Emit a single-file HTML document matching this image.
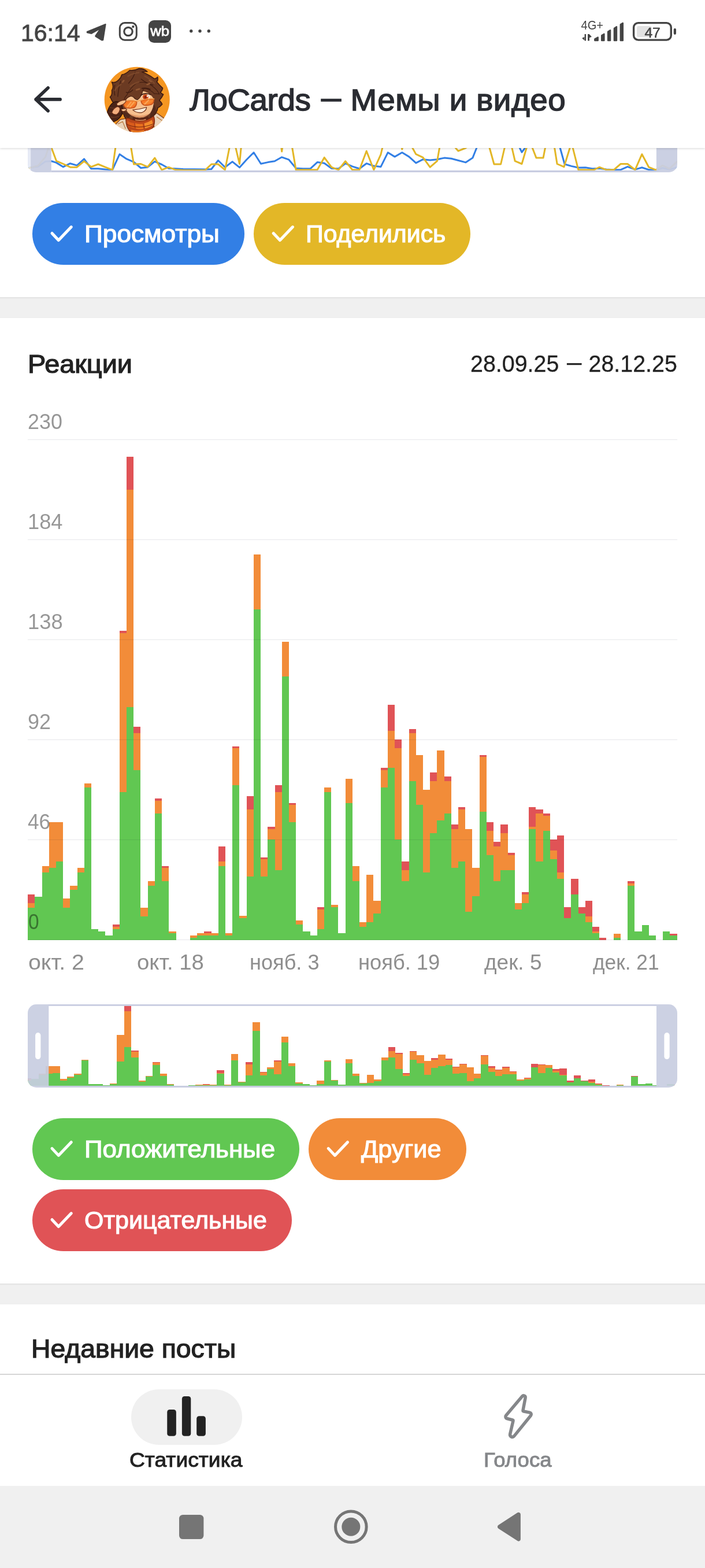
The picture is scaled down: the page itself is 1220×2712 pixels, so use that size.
<!DOCTYPE html>
<html lang="ru"><head><meta charset="utf-8">
<meta name="viewport" content="width=1220">
<title>ЛоCards — Мемы и видео</title>
<style>
*{box-sizing:border-box;margin:0;padding:0}
html,body{width:1220px;height:2712px;overflow:hidden;background:#fff}
body{position:relative;font-family:'Liberation Sans',sans-serif;color:#222}
.t{position:absolute;white-space:nowrap;line-height:1;transform-origin:0 0}
.abs{position:absolute}
.chip{position:absolute;height:107px;border-radius:53.5px}
svg{position:absolute;left:0;top:0;overflow:visible}
</style></head><body>

<svg width="1220" height="2712"><defs><clipPath id="cs"><rect x="48" y="200" width="1124" height="97.9" rx="14"/></clipPath></defs><g clip-path="url(#cs)"><polyline points="47.8,290.5 65.9,287.9 78.8,279.3 89.2,278.8 97.5,281.4 109.4,288.7 121.5,282.7 133.2,286.1 145.6,274.9 157.8,291.8 169.9,291.8 182.4,293.1 194.5,293.8 207.0,266.7 219.1,274.9 231.5,280.1 243.7,290.5 255.6,289.2 267.8,279.3 279.9,284.5 291.9,291.3 304.0,291.8 317.0,292.5 354.9,293.1 365.8,292.5 377.5,277.5 389.4,289.2 402.1,279.6 414.5,289.7 426.6,276.2 439.1,263.8 451.5,283.2 463.7,280.6 475.3,278.8 487.7,271.8 499.9,276.2 512.1,291.0 524.5,291.8 536.9,291.8 549.1,280.6 561.2,282.2 573.7,291.3 585.8,291.8 597.7,282.7 609.8,287.9 622.0,291.8 634.2,282.7 646.9,287.1 659.0,288.4 671.2,263.8 683.1,271.1 695.8,263.8 707.9,271.1 719.8,281.9 732.0,275.7 744.2,277.0 756.6,275.7 769.0,273.1 780.9,274.2 793.1,277.5 805.8,280.9 817.9,273.1 824.7,256.0 829.1,245.2 896.0,242.6 899.4,256.0 903.0,263.3 908.5,256.0 912.4,245.2 965.4,242.6 969.3,256.0 977.1,284.0 989.0,287.4 1000.9,290.0 1013.0,289.7 1025.0,291.8 1037.4,291.3 1049.5,293.1 1062.0,293.8 1074.1,293.6 1086.0,288.4 1099.0,293.1 1110.9,289.7 1122.8,293.6 1135.0,294.4 1146.6,290.5 1158.3,293.1 1172.5,289.2" fill="none" stroke="#327fe5" stroke-width="3.0" stroke-linejoin="round" stroke-linecap="round"/><polyline points="47.8,291.8 55.5,289.2 65.9,286.6 78.8,271.1 87.4,245.2 89.2,256.0 97.5,278.3 109.4,283.5 121.5,289.2 133.2,289.2 145.6,278.8 157.8,288.7 169.9,284.0 182.4,289.2 194.5,293.8 199.7,256.0 201.3,245.2 225.3,245.2 226.9,256.0 231.5,284.0 243.7,283.5 255.6,288.7 267.8,273.1 279.9,293.8 291.9,289.2 304.0,293.8 317.0,294.4 354.9,294.4 365.8,284.0 377.5,284.0 389.4,293.8 396.9,256.0 398.9,245.2 406.7,245.2 408.0,256.0 414.5,283.5 417.1,256.0 418.1,245.2 485.7,245.2 487.7,262.0 489.8,245.2 504.8,245.2 505.8,256.0 512.1,293.8 549.1,293.8 561.2,272.4 573.7,289.2 585.8,293.8 597.7,278.8 609.8,293.8 622.0,293.8 634.2,261.2 646.9,293.8 659.0,267.2 661.6,256.0 663.7,245.2 693.2,245.2 695.8,258.1 698.4,245.2 711.8,245.2 713.9,256.0 719.8,266.7 732.0,272.4 744.2,289.2 756.6,278.3 760.5,256.0 762.0,245.2 785.1,247.8 788.4,256.0 793.1,261.2 805.8,256.0 814.8,250.4 844.6,245.2 847.2,256.0 855.0,284.0 866.6,284.0 873.1,256.0 875.9,245.2 884.2,245.2 886.0,256.0 891.2,278.3 890.9,278.3 903.0,283.5 911.1,256.0 914.2,245.2 918.8,245.2 921.4,256.0 927.9,272.9 940.1,272.9 943.4,256.0 945.7,245.2 957.7,245.2 959.7,256.0 964.1,283.5 976.0,288.7 986.1,256.0 988.7,245.2 989.7,245.2 991.3,256.0 1000.9,293.8 1013.0,293.8 1027.5,293.8 1037.4,289.2 1049.5,293.8 1062.0,293.8 1074.1,283.5 1086.0,283.5 1099.0,293.8 1110.9,266.7 1122.8,289.2 1135.0,293.8 1146.6,286.1 1158.3,291.8 1172.5,278.8" fill="none" stroke="#e3b727" stroke-width="3.0" stroke-linejoin="round" stroke-linecap="round"/><rect x="88.8" y="294.7" width="1047.1" height="3.3" fill="#c8cde1"/><rect x="48" y="200" width="5.2" height="98" fill="#e3e8f4" fill-opacity="0.85"/><rect x="53.1" y="200" width="35.7" height="98" fill="#c8cde1" fill-opacity="0.95"/><rect x="1135.9" y="200" width="36.5" height="98" fill="#c8cde1" fill-opacity="0.95"/></g></svg>
<div class="chip" style="left:55.9px;top:351.0px;width:366.80px;background:#327fe5"></div><svg width="1220" height="2712" style="pointer-events:none"><path d="M90.0 403.5 L101.3 415.5 L123.3 392.6" fill="none" stroke="#fff" stroke-width="5" stroke-linecap="round" stroke-linejoin="round"/></svg><div class="t" style="left:145.54px;top:384px;font-size:41.6px;font-weight:400;color:#fff;transform:scaleX(1.0636);-webkit-text-stroke:1.16px #fff;">Просмотры</div>
<div class="chip" style="left:439.1px;top:351.0px;width:374.80px;background:#e3b727"></div><svg width="1220" height="2712" style="pointer-events:none"><path d="M473.2 403.5 L484.5 415.5 L506.5 392.6" fill="none" stroke="#fff" stroke-width="5" stroke-linecap="round" stroke-linejoin="round"/></svg><div class="t" style="left:528.60px;top:384px;font-size:41.6px;font-weight:400;color:#fff;transform:scaleX(1.0287);-webkit-text-stroke:1.16px #fff;">Поделились</div>
<div class="abs" style="left:-10px;top:513.8px;width:1240px;height:36.1px;background:#f0f0f0;box-shadow:inset 0 3px 3px -2px rgba(0,0,0,.10), inset 0 -2px 2px -2px rgba(0,0,0,.06)"></div>
<div class="abs" style="left:-10px;top:2219.8px;width:1240px;height:36.1px;background:#f0f0f0;box-shadow:inset 0 3px 3px -2px rgba(0,0,0,.10), inset 0 -2px 2px -2px rgba(0,0,0,.06)"></div>
<div class="t" style="left:47.67px;top:608px;font-size:43.7px;font-weight:400;color:#222;transform:scaleX(1.0724);-webkit-text-stroke:1.22px #222;">Реакции</div>
<div class="t" style="left:813.50px;top:609px;font-size:41.3px;font-weight:400;color:#222;transform:scaleX(0.9543);-webkit-text-stroke:0.33px #222;">28.09.25 <span style="display:inline-block;width:0.662em;transform:scaleX(0.645);transform-origin:0 50%;margin-left:0.078em;position:relative;top:-0.073em">—</span> 28.12.25</div>
<svg width="1220" height="2712" shape-rendering="crispEdges">
<rect x="48" y="1570.28" width="12" height="55.32" fill="#61c752"/><rect x="48" y="1561.62" width="12" height="8.66" fill="#f28c39"/><rect x="48" y="1546.57" width="12" height="15.05" fill="#e05356"/><rect x="60" y="1551.08" width="13" height="74.52" fill="#61c752"/><rect x="73" y="1508.93" width="12" height="116.67" fill="#61c752"/><rect x="73" y="1497.64" width="12" height="11.29" fill="#f28c39"/><rect x="85" y="1501.40" width="12" height="124.20" fill="#61c752"/><rect x="85" y="1422.37" width="12" height="79.03" fill="#f28c39"/><rect x="97" y="1490.11" width="12" height="135.49" fill="#61c752"/><rect x="97" y="1422.37" width="12" height="67.74" fill="#f28c39"/><rect x="109" y="1570.28" width="12" height="55.32" fill="#61c752"/><rect x="109" y="1554.09" width="12" height="16.18" fill="#f28c39"/><rect x="121" y="1539.04" width="13" height="86.56" fill="#61c752"/><rect x="121" y="1531.51" width="13" height="7.53" fill="#f28c39"/><rect x="134" y="1508.93" width="12" height="116.67" fill="#61c752"/><rect x="134" y="1501.40" width="12" height="7.53" fill="#f28c39"/><rect x="146" y="1362.15" width="12" height="263.44" fill="#61c752"/><rect x="146" y="1354.63" width="12" height="7.53" fill="#f28c39"/><rect x="158" y="1606.78" width="12" height="18.82" fill="#61c752"/><rect x="170" y="1610.55" width="12" height="15.05" fill="#61c752"/><rect x="182" y="1618.07" width="13" height="7.53" fill="#61c752"/><rect x="195" y="1606.78" width="12" height="18.82" fill="#61c752"/><rect x="195" y="1603.02" width="12" height="3.76" fill="#f28c39"/><rect x="195" y="1599.26" width="12" height="3.76" fill="#e05356"/><rect x="207" y="1369.68" width="12" height="255.92" fill="#61c752"/><rect x="207" y="1094.95" width="12" height="274.74" fill="#f28c39"/><rect x="207" y="1091.18" width="12" height="3.76" fill="#e05356"/><rect x="219" y="1222.91" width="12" height="402.69" fill="#61c752"/><rect x="219" y="846.56" width="12" height="376.35" fill="#f28c39"/><rect x="219" y="790.10" width="12" height="56.45" fill="#e05356"/><rect x="231" y="1332.05" width="12" height="293.55" fill="#61c752"/><rect x="231" y="1268.07" width="12" height="63.98" fill="#f28c39"/><rect x="231" y="1256.78" width="12" height="11.29" fill="#e05356"/><rect x="243" y="1585.33" width="13" height="40.27" fill="#61c752"/><rect x="243" y="1570.28" width="13" height="15.05" fill="#f28c39"/><rect x="256" y="1531.51" width="12" height="94.09" fill="#61c752"/><rect x="256" y="1523.99" width="12" height="7.53" fill="#f28c39"/><rect x="268" y="1407.32" width="12" height="218.28" fill="#61c752"/><rect x="268" y="1384.74" width="12" height="22.58" fill="#f28c39"/><rect x="268" y="1380.97" width="12" height="3.76" fill="#e05356"/><rect x="280" y="1523.99" width="12" height="101.61" fill="#61c752"/><rect x="280" y="1501.40" width="12" height="22.58" fill="#f28c39"/><rect x="280" y="1497.64" width="12" height="3.76" fill="#e05356"/><rect x="292" y="1614.31" width="13" height="11.29" fill="#61c752"/><rect x="292" y="1610.55" width="13" height="3.76" fill="#f28c39"/><rect x="329" y="1621.84" width="12" height="3.76" fill="#61c752"/><rect x="329" y="1618.07" width="12" height="3.76" fill="#f28c39"/><rect x="341" y="1618.07" width="12" height="7.53" fill="#61c752"/><rect x="341" y="1614.31" width="12" height="3.76" fill="#f28c39"/><rect x="353" y="1618.07" width="13" height="7.53" fill="#61c752"/><rect x="353" y="1614.31" width="13" height="3.76" fill="#f28c39"/><rect x="353" y="1610.55" width="13" height="3.76" fill="#e05356"/><rect x="366" y="1618.07" width="12" height="7.53" fill="#61c752"/><rect x="366" y="1614.31" width="12" height="3.76" fill="#f28c39"/><rect x="378" y="1497.64" width="12" height="127.96" fill="#61c752"/><rect x="378" y="1490.11" width="12" height="7.53" fill="#f28c39"/><rect x="378" y="1463.77" width="12" height="26.34" fill="#e05356"/><rect x="390" y="1618.07" width="12" height="7.53" fill="#61c752"/><rect x="390" y="1614.31" width="12" height="3.76" fill="#f28c39"/><rect x="402" y="1358.39" width="12" height="267.21" fill="#61c752"/><rect x="402" y="1294.41" width="12" height="63.98" fill="#f28c39"/><rect x="402" y="1290.65" width="12" height="3.76" fill="#e05356"/><rect x="414" y="1587.96" width="13" height="37.63" fill="#61c752"/><rect x="414" y="1584.20" width="13" height="3.76" fill="#f28c39"/><rect x="427" y="1516.46" width="12" height="109.14" fill="#61c752"/><rect x="427" y="1399.79" width="12" height="116.67" fill="#f28c39"/><rect x="427" y="1377.21" width="12" height="22.58" fill="#e05356"/><rect x="439" y="1053.55" width="12" height="572.05" fill="#61c752"/><rect x="439" y="959.46" width="12" height="94.09" fill="#f28c39"/><rect x="451" y="1516.46" width="12" height="109.14" fill="#61c752"/><rect x="451" y="1486.35" width="12" height="30.11" fill="#f28c39"/><rect x="451" y="1482.59" width="12" height="3.76" fill="#e05356"/><rect x="463" y="1452.48" width="13" height="173.12" fill="#61c752"/><rect x="463" y="1433.66" width="13" height="18.82" fill="#f28c39"/><rect x="463" y="1429.90" width="13" height="3.76" fill="#e05356"/><rect x="476" y="1505.17" width="12" height="120.43" fill="#61c752"/><rect x="476" y="1369.68" width="12" height="135.49" fill="#f28c39"/><rect x="476" y="1358.39" width="12" height="11.29" fill="#e05356"/><rect x="488" y="1170.22" width="12" height="455.38" fill="#61c752"/><rect x="488" y="1110.00" width="12" height="60.22" fill="#f28c39"/><rect x="500" y="1422.37" width="12" height="203.23" fill="#61c752"/><rect x="500" y="1392.26" width="12" height="30.11" fill="#f28c39"/><rect x="500" y="1388.50" width="12" height="3.76" fill="#e05356"/><rect x="512" y="1599.26" width="12" height="26.34" fill="#61c752"/><rect x="512" y="1591.73" width="12" height="7.53" fill="#f28c39"/><rect x="524" y="1610.55" width="13" height="15.05" fill="#61c752"/><rect x="537" y="1618.07" width="12" height="7.53" fill="#61c752"/><rect x="549" y="1606.78" width="12" height="18.82" fill="#61c752"/><rect x="549" y="1572.91" width="12" height="33.87" fill="#f28c39"/><rect x="549" y="1569.15" width="12" height="3.76" fill="#e05356"/><rect x="561" y="1369.68" width="12" height="255.92" fill="#61c752"/><rect x="561" y="1362.15" width="12" height="7.53" fill="#f28c39"/><rect x="573" y="1569.15" width="12" height="56.45" fill="#61c752"/><rect x="573" y="1565.38" width="12" height="3.76" fill="#f28c39"/><rect x="585" y="1614.31" width="13" height="11.29" fill="#61c752"/><rect x="598" y="1388.50" width="12" height="237.10" fill="#61c752"/><rect x="598" y="1347.10" width="12" height="41.40" fill="#f28c39"/><rect x="610" y="1523.99" width="12" height="101.61" fill="#61c752"/><rect x="610" y="1497.64" width="12" height="26.34" fill="#f28c39"/><rect x="622" y="1603.02" width="12" height="22.58" fill="#61c752"/><rect x="622" y="1595.49" width="12" height="7.53" fill="#f28c39"/><rect x="634" y="1595.49" width="12" height="30.11" fill="#61c752"/><rect x="634" y="1512.69" width="12" height="82.80" fill="#f28c39"/><rect x="646" y="1580.44" width="13" height="45.16" fill="#61c752"/><rect x="646" y="1557.86" width="13" height="22.58" fill="#f28c39"/><rect x="659" y="1362.15" width="12" height="263.44" fill="#61c752"/><rect x="659" y="1332.05" width="12" height="30.11" fill="#f28c39"/><rect x="659" y="1328.28" width="12" height="3.76" fill="#e05356"/><rect x="671" y="1328.28" width="12" height="297.32" fill="#61c752"/><rect x="671" y="1264.30" width="12" height="63.98" fill="#f28c39"/><rect x="671" y="1219.14" width="12" height="45.16" fill="#e05356"/><rect x="683" y="1452.48" width="12" height="173.12" fill="#61c752"/><rect x="683" y="1294.41" width="12" height="158.07" fill="#f28c39"/><rect x="683" y="1279.36" width="12" height="15.05" fill="#e05356"/><rect x="695" y="1523.99" width="13" height="101.61" fill="#61c752"/><rect x="695" y="1505.17" width="13" height="18.82" fill="#f28c39"/><rect x="695" y="1490.11" width="13" height="15.05" fill="#e05356"/><rect x="708" y="1350.86" width="12" height="274.74" fill="#61c752"/><rect x="708" y="1268.07" width="12" height="82.80" fill="#f28c39"/><rect x="708" y="1260.54" width="12" height="7.53" fill="#e05356"/><rect x="720" y="1392.26" width="12" height="233.34" fill="#61c752"/><rect x="720" y="1305.70" width="12" height="86.56" fill="#f28c39"/><rect x="732" y="1508.93" width="12" height="116.67" fill="#61c752"/><rect x="732" y="1365.92" width="12" height="143.01" fill="#f28c39"/><rect x="744" y="1441.19" width="12" height="184.41" fill="#61c752"/><rect x="744" y="1350.86" width="12" height="90.32" fill="#f28c39"/><rect x="744" y="1335.81" width="12" height="15.05" fill="#e05356"/><rect x="756" y="1418.61" width="13" height="206.99" fill="#61c752"/><rect x="756" y="1298.18" width="13" height="120.43" fill="#f28c39"/><rect x="769" y="1407.32" width="12" height="218.28" fill="#61c752"/><rect x="769" y="1350.86" width="12" height="56.45" fill="#f28c39"/><rect x="769" y="1343.34" width="12" height="7.53" fill="#e05356"/><rect x="781" y="1501.40" width="12" height="124.20" fill="#61c752"/><rect x="781" y="1433.66" width="12" height="67.74" fill="#f28c39"/><rect x="781" y="1426.13" width="12" height="7.53" fill="#e05356"/><rect x="793" y="1490.11" width="12" height="135.49" fill="#61c752"/><rect x="793" y="1399.79" width="12" height="90.32" fill="#f28c39"/><rect x="793" y="1396.03" width="12" height="3.76" fill="#e05356"/><rect x="805" y="1576.67" width="12" height="48.93" fill="#61c752"/><rect x="805" y="1433.66" width="12" height="143.01" fill="#f28c39"/><rect x="817" y="1550.33" width="13" height="75.27" fill="#61c752"/><rect x="817" y="1501.40" width="13" height="48.93" fill="#f28c39"/><rect x="830" y="1403.55" width="12" height="222.05" fill="#61c752"/><rect x="830" y="1309.47" width="12" height="94.09" fill="#f28c39"/><rect x="830" y="1305.70" width="12" height="3.76" fill="#e05356"/><rect x="842" y="1478.82" width="12" height="146.78" fill="#61c752"/><rect x="842" y="1437.42" width="12" height="41.40" fill="#f28c39"/><rect x="842" y="1422.37" width="12" height="15.05" fill="#e05356"/><rect x="854" y="1523.99" width="12" height="101.61" fill="#61c752"/><rect x="854" y="1463.77" width="12" height="60.22" fill="#f28c39"/><rect x="854" y="1456.24" width="12" height="7.53" fill="#e05356"/><rect x="866" y="1505.17" width="13" height="120.43" fill="#61c752"/><rect x="866" y="1441.19" width="13" height="63.98" fill="#f28c39"/><rect x="866" y="1426.13" width="13" height="15.05" fill="#e05356"/><rect x="879" y="1505.17" width="12" height="120.43" fill="#61c752"/><rect x="879" y="1478.82" width="12" height="26.34" fill="#f28c39"/><rect x="879" y="1475.06" width="12" height="3.76" fill="#e05356"/><rect x="891" y="1572.91" width="12" height="52.69" fill="#61c752"/><rect x="891" y="1561.62" width="12" height="11.29" fill="#f28c39"/><rect x="903" y="1561.62" width="12" height="63.98" fill="#61c752"/><rect x="903" y="1546.57" width="12" height="15.05" fill="#f28c39"/><rect x="903" y="1542.80" width="12" height="3.76" fill="#e05356"/><rect x="915" y="1433.66" width="12" height="191.94" fill="#61c752"/><rect x="915" y="1429.90" width="12" height="3.76" fill="#f28c39"/><rect x="915" y="1396.03" width="12" height="33.87" fill="#e05356"/><rect x="927" y="1490.11" width="13" height="135.49" fill="#61c752"/><rect x="927" y="1407.32" width="13" height="82.80" fill="#f28c39"/><rect x="927" y="1399.79" width="13" height="7.53" fill="#e05356"/><rect x="940" y="1437.42" width="12" height="188.17" fill="#61c752"/><rect x="940" y="1411.08" width="12" height="26.34" fill="#f28c39"/><rect x="940" y="1407.32" width="12" height="3.76" fill="#e05356"/><rect x="952" y="1486.35" width="12" height="139.25" fill="#61c752"/><rect x="952" y="1471.30" width="12" height="15.05" fill="#f28c39"/><rect x="952" y="1452.48" width="12" height="18.82" fill="#e05356"/><rect x="964" y="1520.22" width="12" height="105.38" fill="#61c752"/><rect x="964" y="1508.93" width="12" height="11.29" fill="#f28c39"/><rect x="964" y="1444.95" width="12" height="63.98" fill="#e05356"/><rect x="976" y="1587.96" width="12" height="37.63" fill="#61c752"/><rect x="976" y="1569.15" width="12" height="18.82" fill="#e05356"/><rect x="988" y="1546.57" width="13" height="79.03" fill="#61c752"/><rect x="988" y="1520.22" width="13" height="26.34" fill="#e05356"/><rect x="1001" y="1580.44" width="12" height="45.16" fill="#61c752"/><rect x="1001" y="1569.15" width="12" height="11.29" fill="#e05356"/><rect x="1013" y="1595.49" width="12" height="30.11" fill="#61c752"/><rect x="1013" y="1585.33" width="12" height="10.16" fill="#f28c39"/><rect x="1013" y="1557.86" width="12" height="27.47" fill="#e05356"/><rect x="1025" y="1614.31" width="12" height="11.29" fill="#61c752"/><rect x="1025" y="1610.55" width="12" height="3.76" fill="#f28c39"/><rect x="1025" y="1603.02" width="12" height="7.53" fill="#e05356"/><rect x="1037" y="1621.84" width="12" height="3.76" fill="#e05356"/><rect x="1062" y="1621.84" width="12" height="3.76" fill="#61c752"/><rect x="1062" y="1615.06" width="12" height="6.77" fill="#f28c39"/><rect x="1086" y="1531.51" width="12" height="94.09" fill="#61c752"/><rect x="1086" y="1527.75" width="12" height="3.76" fill="#f28c39"/><rect x="1086" y="1523.99" width="12" height="3.76" fill="#e05356"/><rect x="1098" y="1610.55" width="13" height="15.05" fill="#61c752"/><rect x="1111" y="1600.01" width="12" height="25.59" fill="#61c752"/><rect x="1123" y="1618.07" width="12" height="7.53" fill="#61c752"/><rect x="1147" y="1610.55" width="12" height="15.05" fill="#61c752"/><rect x="1159" y="1618.07" width="13" height="7.53" fill="#61c752"/><rect x="1159" y="1615.06" width="13" height="3.01" fill="#e05356"/>
<rect x="48" y="1624.95" width="1124" height="1" fill="rgba(15,30,55,0.105)" shape-rendering="auto"/>
<rect x="48" y="1451.94" width="1124" height="1" fill="rgba(15,30,55,0.105)" shape-rendering="auto"/>
<rect x="48" y="1278.93" width="1124" height="1" fill="rgba(15,30,55,0.105)" shape-rendering="auto"/>
<rect x="48" y="1105.92" width="1124" height="1" fill="rgba(15,30,55,0.105)" shape-rendering="auto"/>
<rect x="48" y="932.91" width="1124" height="1" fill="rgba(15,30,55,0.105)" shape-rendering="auto"/>
<rect x="48" y="759.90" width="1124" height="1" fill="rgba(15,30,55,0.105)" shape-rendering="auto"/>
</svg>
<div class="t" style="left:48.52px;top:1576px;font-size:37.8px;font-weight:400;color:rgba(0,0,0,0.41);transform:scaleX(0.8836);">0</div>
<div class="t" style="left:47.60px;top:1403px;font-size:37.8px;font-weight:400;color:rgba(0,0,0,0.41);transform:scaleX(0.9313);">46</div>
<div class="t" style="left:47.67px;top:1230px;font-size:37.8px;font-weight:400;color:rgba(0,0,0,0.41);transform:scaleX(0.9501);">92</div>
<div class="t" style="left:47.51px;top:1057px;font-size:37.8px;font-weight:400;color:rgba(0,0,0,0.41);transform:scaleX(0.9620);">138</div>
<div class="t" style="left:47.54px;top:884px;font-size:37.8px;font-weight:400;color:rgba(0,0,0,0.41);transform:scaleX(0.9597);">184</div>
<div class="t" style="left:47.61px;top:711px;font-size:37.8px;font-weight:400;color:rgba(0,0,0,0.41);transform:scaleX(0.9495);">230</div>
<div class="t" style="left:48.64px;top:1646px;font-size:37.8px;font-weight:400;color:#8e8e8e;transform:scaleX(1.0400);">окт. 2</div>
<div class="t" style="left:236.69px;top:1646px;font-size:37.8px;font-weight:400;color:#8e8e8e;transform:scaleX(1.0159);">окт. 18</div>
<div class="t" style="left:431.53px;top:1646px;font-size:37.8px;font-weight:400;color:#8e8e8e;transform:scaleX(0.9562);">нояб. 3</div>
<div class="t" style="left:619.51px;top:1646px;font-size:37.8px;font-weight:400;color:#8e8e8e;transform:scaleX(0.9606);">нояб. 19</div>
<div class="t" style="left:837.58px;top:1646px;font-size:37.8px;font-weight:400;color:#8e8e8e;transform:scaleX(0.9789);">дек. 5</div>
<div class="t" style="left:1025.62px;top:1646px;font-size:37.8px;font-weight:400;color:#8e8e8e;transform:scaleX(0.9342);">дек. 21</div>
<svg width="1220" height="2712"><defs><clipPath id="cm"><rect x="48" y="1737.1" width="1124" height="143.9000000000001" rx="15"/></clipPath></defs><g clip-path="url(#cm)"><g shape-rendering="crispEdges"><rect x="42" y="1868.76" width="12" height="9.14" fill="#61c752"/><rect x="42" y="1867.33" width="12" height="1.43" fill="#f28c39"/><rect x="42" y="1864.85" width="12" height="2.49" fill="#e05356"/><rect x="54" y="1865.59" width="13" height="12.31" fill="#61c752"/><rect x="67" y="1858.63" width="12" height="19.27" fill="#61c752"/><rect x="67" y="1856.76" width="12" height="1.86" fill="#f28c39"/><rect x="79" y="1857.39" width="12" height="20.51" fill="#61c752"/><rect x="79" y="1844.33" width="12" height="13.05" fill="#f28c39"/><rect x="91" y="1855.52" width="13" height="22.38" fill="#61c752"/><rect x="91" y="1844.33" width="13" height="11.19" fill="#f28c39"/><rect x="104" y="1868.76" width="12" height="9.14" fill="#61c752"/><rect x="104" y="1866.09" width="12" height="2.67" fill="#f28c39"/><rect x="116" y="1863.60" width="12" height="14.30" fill="#61c752"/><rect x="116" y="1862.36" width="12" height="1.24" fill="#f28c39"/><rect x="128" y="1858.63" width="13" height="19.27" fill="#61c752"/><rect x="128" y="1857.39" width="13" height="1.24" fill="#f28c39"/><rect x="141" y="1834.39" width="12" height="43.51" fill="#61c752"/><rect x="141" y="1833.14" width="12" height="1.24" fill="#f28c39"/><rect x="153" y="1874.79" width="12" height="3.11" fill="#61c752"/><rect x="165" y="1875.41" width="13" height="2.49" fill="#61c752"/><rect x="178" y="1876.66" width="12" height="1.24" fill="#61c752"/><rect x="190" y="1874.79" width="12" height="3.11" fill="#61c752"/><rect x="190" y="1874.17" width="12" height="0.62" fill="#f28c39"/><rect x="190" y="1873.55" width="12" height="0.62" fill="#e05356"/><rect x="202" y="1835.63" width="13" height="42.27" fill="#61c752"/><rect x="202" y="1790.25" width="13" height="45.38" fill="#f28c39"/><rect x="202" y="1789.63" width="13" height="0.62" fill="#e05356"/><rect x="215" y="1811.39" width="12" height="66.51" fill="#61c752"/><rect x="215" y="1749.22" width="12" height="62.16" fill="#f28c39"/><rect x="215" y="1739.90" width="12" height="9.32" fill="#e05356"/><rect x="227" y="1829.41" width="13" height="48.49" fill="#61c752"/><rect x="227" y="1818.85" width="13" height="10.57" fill="#f28c39"/><rect x="227" y="1816.98" width="13" height="1.86" fill="#e05356"/><rect x="240" y="1871.25" width="12" height="6.65" fill="#61c752"/><rect x="240" y="1868.76" width="12" height="2.49" fill="#f28c39"/><rect x="252" y="1862.36" width="12" height="15.54" fill="#61c752"/><rect x="252" y="1861.12" width="12" height="1.24" fill="#f28c39"/><rect x="264" y="1841.85" width="13" height="36.05" fill="#61c752"/><rect x="264" y="1838.12" width="13" height="3.73" fill="#f28c39"/><rect x="264" y="1837.49" width="13" height="0.62" fill="#e05356"/><rect x="277" y="1861.12" width="12" height="16.78" fill="#61c752"/><rect x="277" y="1857.39" width="12" height="3.73" fill="#f28c39"/><rect x="277" y="1856.76" width="12" height="0.62" fill="#e05356"/><rect x="289" y="1876.04" width="12" height="1.86" fill="#61c752"/><rect x="289" y="1875.41" width="12" height="0.62" fill="#f28c39"/><rect x="326" y="1877.28" width="12" height="0.62" fill="#61c752"/><rect x="326" y="1876.66" width="12" height="0.62" fill="#f28c39"/><rect x="338" y="1876.66" width="13" height="1.24" fill="#61c752"/><rect x="338" y="1876.04" width="13" height="0.62" fill="#f28c39"/><rect x="351" y="1876.66" width="12" height="1.24" fill="#61c752"/><rect x="351" y="1876.04" width="12" height="0.62" fill="#f28c39"/><rect x="351" y="1875.41" width="12" height="0.62" fill="#e05356"/><rect x="363" y="1876.66" width="12" height="1.24" fill="#61c752"/><rect x="363" y="1876.04" width="12" height="0.62" fill="#f28c39"/><rect x="375" y="1856.76" width="13" height="21.14" fill="#61c752"/><rect x="375" y="1855.52" width="13" height="1.24" fill="#f28c39"/><rect x="375" y="1851.17" width="13" height="4.35" fill="#e05356"/><rect x="388" y="1876.66" width="12" height="1.24" fill="#61c752"/><rect x="388" y="1876.04" width="12" height="0.62" fill="#f28c39"/><rect x="400" y="1833.76" width="12" height="44.14" fill="#61c752"/><rect x="400" y="1823.20" width="12" height="10.57" fill="#f28c39"/><rect x="400" y="1822.58" width="12" height="0.62" fill="#e05356"/><rect x="412" y="1871.68" width="13" height="6.22" fill="#61c752"/><rect x="412" y="1871.06" width="13" height="0.62" fill="#f28c39"/><rect x="425" y="1859.87" width="12" height="18.03" fill="#61c752"/><rect x="425" y="1840.60" width="12" height="19.27" fill="#f28c39"/><rect x="425" y="1836.87" width="12" height="3.73" fill="#e05356"/><rect x="437" y="1783.41" width="13" height="94.49" fill="#61c752"/><rect x="437" y="1767.87" width="13" height="15.54" fill="#f28c39"/><rect x="450" y="1859.87" width="12" height="18.03" fill="#61c752"/><rect x="450" y="1854.90" width="12" height="4.97" fill="#f28c39"/><rect x="450" y="1854.28" width="12" height="0.62" fill="#e05356"/><rect x="462" y="1849.31" width="12" height="28.59" fill="#61c752"/><rect x="462" y="1846.20" width="12" height="3.11" fill="#f28c39"/><rect x="462" y="1845.58" width="12" height="0.62" fill="#e05356"/><rect x="474" y="1858.01" width="13" height="19.89" fill="#61c752"/><rect x="474" y="1835.63" width="13" height="22.38" fill="#f28c39"/><rect x="474" y="1833.76" width="13" height="1.86" fill="#e05356"/><rect x="487" y="1802.68" width="12" height="75.22" fill="#61c752"/><rect x="487" y="1792.74" width="12" height="9.95" fill="#f28c39"/><rect x="499" y="1844.33" width="12" height="33.57" fill="#61c752"/><rect x="499" y="1839.36" width="12" height="4.97" fill="#f28c39"/><rect x="499" y="1838.74" width="12" height="0.62" fill="#e05356"/><rect x="511" y="1873.55" width="13" height="4.35" fill="#61c752"/><rect x="511" y="1872.31" width="13" height="1.24" fill="#f28c39"/><rect x="524" y="1875.41" width="12" height="2.49" fill="#61c752"/><rect x="536" y="1876.66" width="12" height="1.24" fill="#61c752"/><rect x="548" y="1874.79" width="13" height="3.11" fill="#61c752"/><rect x="548" y="1869.20" width="13" height="5.59" fill="#f28c39"/><rect x="548" y="1868.58" width="13" height="0.62" fill="#e05356"/><rect x="561" y="1835.63" width="12" height="42.27" fill="#61c752"/><rect x="561" y="1834.39" width="12" height="1.24" fill="#f28c39"/><rect x="573" y="1868.58" width="12" height="9.32" fill="#61c752"/><rect x="573" y="1867.95" width="12" height="0.62" fill="#f28c39"/><rect x="585" y="1876.04" width="13" height="1.86" fill="#61c752"/><rect x="598" y="1838.74" width="12" height="39.16" fill="#61c752"/><rect x="598" y="1831.90" width="12" height="6.84" fill="#f28c39"/><rect x="610" y="1861.12" width="12" height="16.78" fill="#61c752"/><rect x="610" y="1856.76" width="12" height="4.35" fill="#f28c39"/><rect x="622" y="1874.17" width="13" height="3.73" fill="#61c752"/><rect x="622" y="1872.93" width="13" height="1.24" fill="#f28c39"/><rect x="635" y="1872.93" width="12" height="4.97" fill="#61c752"/><rect x="635" y="1859.25" width="12" height="13.68" fill="#f28c39"/><rect x="647" y="1870.44" width="13" height="7.46" fill="#61c752"/><rect x="647" y="1866.71" width="13" height="3.73" fill="#f28c39"/><rect x="660" y="1834.39" width="12" height="43.51" fill="#61c752"/><rect x="660" y="1829.41" width="12" height="4.97" fill="#f28c39"/><rect x="660" y="1828.79" width="12" height="0.62" fill="#e05356"/><rect x="672" y="1828.79" width="12" height="49.11" fill="#61c752"/><rect x="672" y="1818.22" width="12" height="10.57" fill="#f28c39"/><rect x="672" y="1810.76" width="12" height="7.46" fill="#e05356"/><rect x="684" y="1849.31" width="13" height="28.59" fill="#61c752"/><rect x="684" y="1823.20" width="13" height="26.11" fill="#f28c39"/><rect x="684" y="1820.71" width="13" height="2.49" fill="#e05356"/><rect x="697" y="1861.12" width="12" height="16.78" fill="#61c752"/><rect x="697" y="1858.01" width="12" height="3.11" fill="#f28c39"/><rect x="697" y="1855.52" width="12" height="2.49" fill="#e05356"/><rect x="709" y="1832.52" width="12" height="45.38" fill="#61c752"/><rect x="709" y="1818.85" width="12" height="13.68" fill="#f28c39"/><rect x="709" y="1817.60" width="12" height="1.24" fill="#e05356"/><rect x="721" y="1839.36" width="13" height="38.54" fill="#61c752"/><rect x="721" y="1825.06" width="13" height="14.30" fill="#f28c39"/><rect x="734" y="1858.63" width="12" height="19.27" fill="#61c752"/><rect x="734" y="1835.01" width="12" height="23.62" fill="#f28c39"/><rect x="746" y="1847.44" width="12" height="30.46" fill="#61c752"/><rect x="746" y="1832.52" width="12" height="14.92" fill="#f28c39"/><rect x="746" y="1830.04" width="12" height="2.49" fill="#e05356"/><rect x="758" y="1843.71" width="13" height="34.19" fill="#61c752"/><rect x="758" y="1823.82" width="13" height="19.89" fill="#f28c39"/><rect x="771" y="1841.85" width="12" height="36.05" fill="#61c752"/><rect x="771" y="1832.52" width="12" height="9.32" fill="#f28c39"/><rect x="771" y="1831.28" width="12" height="1.24" fill="#e05356"/><rect x="783" y="1857.39" width="12" height="20.51" fill="#61c752"/><rect x="783" y="1846.20" width="12" height="11.19" fill="#f28c39"/><rect x="783" y="1844.95" width="12" height="1.24" fill="#e05356"/><rect x="795" y="1855.52" width="13" height="22.38" fill="#61c752"/><rect x="795" y="1840.60" width="13" height="14.92" fill="#f28c39"/><rect x="795" y="1839.98" width="13" height="0.62" fill="#e05356"/><rect x="808" y="1869.82" width="12" height="8.08" fill="#61c752"/><rect x="808" y="1846.20" width="12" height="23.62" fill="#f28c39"/><rect x="820" y="1865.47" width="12" height="12.43" fill="#61c752"/><rect x="820" y="1857.39" width="12" height="8.08" fill="#f28c39"/><rect x="832" y="1841.22" width="13" height="36.68" fill="#61c752"/><rect x="832" y="1825.68" width="13" height="15.54" fill="#f28c39"/><rect x="832" y="1825.06" width="13" height="0.62" fill="#e05356"/><rect x="845" y="1853.66" width="12" height="24.24" fill="#61c752"/><rect x="845" y="1846.82" width="12" height="6.84" fill="#f28c39"/><rect x="845" y="1844.33" width="12" height="2.49" fill="#e05356"/><rect x="857" y="1861.12" width="12" height="16.78" fill="#61c752"/><rect x="857" y="1851.17" width="12" height="9.95" fill="#f28c39"/><rect x="857" y="1849.93" width="12" height="1.24" fill="#e05356"/><rect x="869" y="1858.01" width="13" height="19.89" fill="#61c752"/><rect x="869" y="1847.44" width="13" height="10.57" fill="#f28c39"/><rect x="869" y="1844.95" width="13" height="2.49" fill="#e05356"/><rect x="882" y="1858.01" width="12" height="19.89" fill="#61c752"/><rect x="882" y="1853.66" width="12" height="4.35" fill="#f28c39"/><rect x="882" y="1853.04" width="12" height="0.62" fill="#e05356"/><rect x="894" y="1869.20" width="13" height="8.70" fill="#61c752"/><rect x="894" y="1867.33" width="13" height="1.86" fill="#f28c39"/><rect x="907" y="1867.33" width="12" height="10.57" fill="#61c752"/><rect x="907" y="1864.85" width="12" height="2.49" fill="#f28c39"/><rect x="907" y="1864.22" width="12" height="0.62" fill="#e05356"/><rect x="919" y="1846.20" width="12" height="31.70" fill="#61c752"/><rect x="919" y="1845.58" width="12" height="0.62" fill="#f28c39"/><rect x="919" y="1839.98" width="12" height="5.59" fill="#e05356"/><rect x="931" y="1855.52" width="13" height="22.38" fill="#61c752"/><rect x="931" y="1841.85" width="13" height="13.68" fill="#f28c39"/><rect x="931" y="1840.60" width="13" height="1.24" fill="#e05356"/><rect x="944" y="1846.82" width="12" height="31.08" fill="#61c752"/><rect x="944" y="1842.47" width="12" height="4.35" fill="#f28c39"/><rect x="944" y="1841.85" width="12" height="0.62" fill="#e05356"/><rect x="956" y="1854.90" width="12" height="23.00" fill="#61c752"/><rect x="956" y="1852.41" width="12" height="2.49" fill="#f28c39"/><rect x="956" y="1849.31" width="12" height="3.11" fill="#e05356"/><rect x="968" y="1860.49" width="13" height="17.41" fill="#61c752"/><rect x="968" y="1858.63" width="13" height="1.86" fill="#f28c39"/><rect x="968" y="1848.06" width="13" height="10.57" fill="#e05356"/><rect x="981" y="1871.68" width="12" height="6.22" fill="#61c752"/><rect x="981" y="1868.58" width="12" height="3.11" fill="#e05356"/><rect x="993" y="1864.85" width="12" height="13.05" fill="#61c752"/><rect x="993" y="1860.49" width="12" height="4.35" fill="#e05356"/><rect x="1005" y="1870.44" width="13" height="7.46" fill="#61c752"/><rect x="1005" y="1868.58" width="13" height="1.86" fill="#e05356"/><rect x="1018" y="1872.93" width="12" height="4.97" fill="#61c752"/><rect x="1018" y="1871.25" width="12" height="1.68" fill="#f28c39"/><rect x="1018" y="1866.71" width="12" height="4.54" fill="#e05356"/><rect x="1030" y="1876.04" width="12" height="1.86" fill="#61c752"/><rect x="1030" y="1875.41" width="12" height="0.62" fill="#f28c39"/><rect x="1030" y="1874.17" width="12" height="1.24" fill="#e05356"/><rect x="1042" y="1877.28" width="13" height="0.62" fill="#e05356"/><rect x="1067" y="1877.28" width="12" height="0.62" fill="#61c752"/><rect x="1067" y="1876.16" width="12" height="1.12" fill="#f28c39"/><rect x="1092" y="1862.36" width="12" height="15.54" fill="#61c752"/><rect x="1092" y="1861.74" width="12" height="0.62" fill="#f28c39"/><rect x="1092" y="1861.12" width="12" height="0.62" fill="#e05356"/><rect x="1104" y="1875.41" width="13" height="2.49" fill="#61c752"/><rect x="1117" y="1873.67" width="12" height="4.23" fill="#61c752"/><rect x="1129" y="1876.66" width="12" height="1.24" fill="#61c752"/><rect x="1154" y="1875.41" width="12" height="2.49" fill="#61c752"/><rect x="1166" y="1876.66" width="12" height="1.24" fill="#61c752"/><rect x="1166" y="1876.16" width="12" height="0.50" fill="#e05356"/></g><rect x="84" y="1737.1" width="1052" height="2.8" fill="#c8cde1"/><rect x="84" y="1877.9" width="1052" height="3.1" fill="#c8cde1"/><rect x="48" y="1737.1" width="36.3" height="143.9000000000001" fill="#c8cde1" fill-opacity="0.92"/><rect x="1136" y="1737.1" width="36.3" height="143.9000000000001" fill="#c8cde1" fill-opacity="0.92"/></g><rect x="61.1" y="1786.1" width="9.3" height="45.9" rx="4.65" fill="#fff"/><rect x="1149.4" y="1786.1" width="9.3" height="45.9" rx="4.65" fill="#fff"/></svg>
<div class="chip" style="left:55.9px;top:1933.9px;width:462.10px;background:#61c752"></div><svg width="1220" height="2712" style="pointer-events:none"><path d="M90.0 1986.4 L101.3 1998.4 L123.3 1975.5" fill="none" stroke="#fff" stroke-width="5" stroke-linecap="round" stroke-linejoin="round"/></svg><div class="t" style="left:145.57px;top:1967px;font-size:41.6px;font-weight:400;color:#fff;transform:scaleX(1.0550);-webkit-text-stroke:1.16px #fff;">Положительные</div>
<div class="chip" style="left:534.1px;top:1933.9px;width:272.80px;background:#f28c39"></div><svg width="1220" height="2712" style="pointer-events:none"><path d="M568.2 1986.4 L579.5 1998.4 L601.5 1975.5" fill="none" stroke="#fff" stroke-width="5" stroke-linecap="round" stroke-linejoin="round"/></svg><div class="t" style="left:624.53px;top:1967px;font-size:41.6px;font-weight:400;color:#fff;transform:scaleX(1.0402);-webkit-text-stroke:1.16px #fff;">Другие</div>
<div class="chip" style="left:55.9px;top:2057.0px;width:449.10px;background:#e05356"></div><svg width="1220" height="2712" style="pointer-events:none"><path d="M90.0 2109.5 L101.3 2121.5 L123.3 2098.6" fill="none" stroke="#fff" stroke-width="5" stroke-linecap="round" stroke-linejoin="round"/></svg><div class="t" style="left:145.69px;top:2090px;font-size:41.6px;font-weight:400;color:#fff;transform:scaleX(1.0318);-webkit-text-stroke:1.16px #fff;">Отрицательные</div>
<div class="t" style="left:53.52px;top:2311px;font-size:44.5px;font-weight:400;color:#222;transform:scaleX(1.0413);-webkit-text-stroke:1.25px #222;">Недавние посты</div>
<div class="abs" style="left:0;top:2376px;width:1220px;height:194px;background:#fff;border-top:2px solid #d6d6d6"></div>
<div class="abs" style="left:226.8px;top:2403px;width:191.9px;height:95.8px;border-radius:48px;background:#f0f0f0"></div>
<svg width="1220" height="2712">
<rect x="289.25" y="2438" width="15.6" height="45.8" rx="4.4" fill="#222"/>
<rect x="314.9" y="2414.9" width="15.4" height="68.9" rx="4.4" fill="#222"/>
<rect x="340.2" y="2449.3" width="15.7" height="34.5" rx="4.4" fill="#222"/>
<path d="M909.13 2417.66 A3.10 3.10 0 0 0 903.72 2415.08 L875.59 2448.32 A3.20 3.20 0 0 0 877.23 2453.49 L886.85 2455.98 A1.50 1.50 0 0 1 887.93 2457.77 L882.68 2480.45 A4.00 4.00 0 0 0 889.68 2483.87 L918.57 2448.33 A3.20 3.20 0 0 0 916.74 2443.18 L906.21 2440.95 A1.50 1.50 0 0 1 905.04 2439.21 Z" fill="none" stroke="#85878a" stroke-width="5.5" stroke-linejoin="round"/>
</svg>
<div class="t" style="left:223.69px;top:2507px;font-size:35.0px;font-weight:400;color:#222;transform:scaleX(1.0631);-webkit-text-stroke:0.98px #222;">Статистика</div>
<div class="t" style="left:836.64px;top:2507px;font-size:35.2px;font-weight:400;color:#85878a;transform:scaleX(1.0383);-webkit-text-stroke:0.99px #85878a;">Голоса</div>
<div class="abs" style="left:0;top:2569.9px;width:1220px;height:142.1px;background:#f0f0f0"></div>
<svg width="1220" height="2712">
<rect x="310" y="2619.9" width="42.4" height="42.1" rx="6.3" fill="#757575"/>
<circle cx="607.35" cy="2640.75" r="26.8" fill="none" stroke="#757575" stroke-width="5"/>
<circle cx="607.35" cy="2640.75" r="16" fill="#757575"/>
<path d="M862.50 2643.63 A3.50 3.50 0 0 1 862.50 2637.77 L895.49 2616.28 A3.50 3.50 0 0 1 900.90 2619.21 L900.90 2662.19 A3.50 3.50 0 0 1 895.49 2665.12 Z" fill="#757575"/>
</svg>
<div class="abs" style="left:0;top:0;width:1220px;height:256px;background:#fff;box-shadow:0 1px 4px rgba(0,0,0,.16)"></div>
<svg width="1220" height="2712"><path d="M182.6 42 L150.8 54.9 L150.8 56.2 L158.3 58 L174.3 48.8 L165.4 61.7 L165.4 63 L176.4 69.6 L178.3 69.2 Z" fill="#444" stroke="#444" stroke-width="2" stroke-linejoin="round"/><rect x="207.3" y="39.6" width="29" height="29.6" rx="8.5" fill="none" stroke="#444" stroke-width="3"/><circle cx="222" cy="54.5" r="7.2" fill="none" stroke="#444" stroke-width="3.2"/><circle cx="230.3" cy="46.2" r="2.1" fill="#444"/><rect x="257" y="35" width="39" height="39" rx="9.5" fill="#444"/><text x="260.2" y="62.3" font-family="'Liberation Sans',sans-serif" font-weight="400" font-size="24.5" fill="#fff" stroke="#fff" stroke-width="0.8" textLength="33" lengthAdjust="spacingAndGlyphs">wb</text><circle cx="330.8" cy="53.7" r="2.7" fill="#444"/><circle cx="346" cy="53.7" r="2.7" fill="#444"/><circle cx="361.3" cy="53.7" r="2.7" fill="#444"/><text x="1005.5" y="51.4" font-family="'Liberation Sans',sans-serif" font-size="21.5" fill="#444" textLength="38.5" lengthAdjust="spacingAndGlyphs">4G+</text><path d="M1011.6 59.1 h2.5 v11.4 h-2.5 z M1012 63.6 L1007.1 66 L1012 70.5 Z M1017.1 59.1 h2.9 v11.4 h-2.9 z M1019.8 59.1 L1023.9 63.8 L1019.8 65.2 Z" fill="#444"/><path d="M1029.30 69.95 V67.50 L1034.70 64.50 V69.95 Z" fill="#444" stroke="#444" stroke-width="2.4" stroke-linejoin="round"/><path d="M1041.20 69.95 V61.30 L1045.40 58.70 V69.95 Z" fill="#444" stroke="#444" stroke-width="2.4" stroke-linejoin="round"/><path d="M1052.10 69.95 V54.70 L1056.10 52.30 V69.95 Z" fill="#444" stroke="#444" stroke-width="2.4" stroke-linejoin="round"/><path d="M1062.90 69.95 V48.90 L1067.00 46.25 V69.95 Z" fill="#444" stroke="#444" stroke-width="2.4" stroke-linejoin="round"/><path d="M1073.80 69.95 V42.30 L1077.85 39.90 V69.95 Z" fill="#444" stroke="#444" stroke-width="2.4" stroke-linejoin="round"/><rect x="1096.6" y="39.6" width="64.7" height="29.5" rx="7.8" fill="none" stroke="#444" stroke-width="3.4"/><rect x="1102.1" y="45.1" width="25.5" height="19.1" rx="3" fill="#e2e2e2"/><rect x="1165.8" y="49" width="4.2" height="10.9" rx="2.1" fill="#444"/><text x="1129.1" y="64.9" font-family="'Liberation Sans',sans-serif" font-size="24.6" fill="#444" stroke="#444" stroke-width="0.6" text-anchor="middle">47</text></svg>
<div class="t" style="left:35.66px;top:38px;font-size:39.9px;font-weight:400;color:#444;transform:scaleX(1.0277);-webkit-text-stroke:0.88px #444;">16:14</div>
<svg width="1220" height="2712"><path d="M104.1 171.9 H62.1 M83.1 152 L62.1 171.9 L83.1 191.8" fill="none" stroke="#2a2c32" stroke-width="5.6" stroke-linecap="round" stroke-linejoin="round"/><g transform="translate(178 113) scale(0.10354)"><defs><clipPath id="ca"><circle cx="571.8" cy="571.8" r="545.7"/></clipPath><radialGradient id="ga" cx="0.5" cy="0.45" r="0.6"><stop offset="0" stop-color="#f9a22b"/><stop offset="1" stop-color="#f3911d"/></radialGradient><linearGradient id="gl" x1="0" y1="0" x2="1" y2="1"><stop offset="0" stop-color="#f4621a"/><stop offset="0.55" stop-color="#f88a30"/><stop offset="1" stop-color="#ee5516"/></linearGradient></defs><g clip-path="url(#ca)"><rect x="0" y="0" width="1160" height="1160" fill="url(#ga)"/><path d="M200 1000 L290 905 L410 885 L450 1140 L200 1140 Z" fill="#ead3ba" stroke="#8a4a22" stroke-width="14" stroke-linejoin="round"/><path d="M250 980 L330 940 L380 1060 M230 1060 L330 1100" fill="none" stroke="#b8763a" stroke-width="12"/><path d="M840 850 L900 795 L1030 890 L1000 1040 L860 1080 Z" fill="#ead3ba" stroke="#8a4a22" stroke-width="14" stroke-linejoin="round"/><path d="M900 860 L1000 930 L920 1010" fill="none" stroke="#b8763a" stroke-width="12"/><path d="M120 530 Q160 500 150 420 Q190 360 150 280 Q220 310 300 200 Q310 170 320 155 Q380 150 450 82 Q520 95 600 55 Q680 50 742 105 Q700 100 655 112 Q780 160 862 225 Q900 222 915 195 Q925 260 900 275 Q945 330 1000 380 Q990 430 960 450 Q990 480 1010 486 Q985 540 945 585 Q980 620 992 650 Q950 700 920 705 Q905 790 832 850 Q780 890 740 905 L400 905 Q360 870 350 820 Q300 790 290 740 Q200 680 150 585 Q140 560 120 530 Z" fill="#6b3a22" stroke="#3f1c11" stroke-width="16" stroke-linejoin="round"/><path d="M840 640 Q900 700 880 790 Q850 850 780 880 L820 700 Z M330 760 Q360 850 430 890 L470 820 Z" fill="#52291a"/><path d="M500 860 Q620 920 760 850 L770 950 L500 950 Z" fill="#5a2414"/><path d="M540 900 Q630 930 720 895 L720 960 L540 960 Z" fill="#e39a68"/><path d="M372 640 Q370 580 420 540 L640 430 Q770 430 850 560 Q860 700 790 800 Q700 880 600 872 Q480 860 420 790 Q380 740 372 640 Z" fill="#f6c08e"/><path d="M420 790 Q480 860 600 872 Q700 880 790 800 Q700 848 600 842 Q500 835 420 790 Z" fill="#e39a68"/><path d="M385 890 Q430 870 470 900 Q600 960 740 910 Q800 880 850 850 Q880 930 850 1010 Q820 1090 700 1130 Q560 1150 450 1100 Q380 1020 385 890 Z" fill="#b9461a" stroke="#7a2a10" stroke-width="12" stroke-linejoin="round"/><path d="M540 965 Q600 985 665 975 L680 1060 Q610 1075 550 1055 Z" fill="#e8701f"/><path d="M690 970 Q760 950 820 910 L840 990 Q780 1040 705 1055 Z" fill="#f38a2a"/><path d="M410 930 Q460 960 520 965 L530 1050 Q460 1040 420 1000 Z" fill="#d95c1c"/><path d="M470 1075 Q580 1110 690 1080 L690 1140 L480 1140 Z" fill="#ea7a22"/><path d="M400 985 Q600 1080 850 975" fill="none" stroke="#7a2a10" stroke-width="10"/><path d="M360 600 Q350 540 400 500 Q450 380 560 300 Q720 250 830 350 Q900 400 945 480 Q900 470 860 475 Q800 405 700 385 Q665 400 660 450 Q640 530 580 575 Q540 570 520 540 Q480 500 430 530 Q390 550 360 600 Z" fill="#6b3a22" stroke="#3f1c11" stroke-width="10" stroke-linejoin="round"/><path d="M655 385 Q720 370 790 400" fill="none" stroke="#3f1c11" stroke-width="16" stroke-linecap="round"/><path d="M390 450 Q440 470 500 410 M540 110 Q520 200 430 300 M640 230 Q720 300 840 330 M300 260 Q260 380 250 520 M200 330 Q180 420 200 500" fill="none" stroke="#3f1c11" stroke-width="12" stroke-linecap="round"/><path d="M560 410 L610 395 M740 320 L780 305 M780 250 L810 270 M330 280 L350 255" fill="none" stroke="#915733" stroke-width="26" stroke-linecap="round"/><path d="M420 180 Q500 130 600 120 M200 420 Q230 360 300 320 M700 180 Q800 230 860 300 M460 350 Q520 300 600 280" fill="none" stroke="#7f4a2b" stroke-width="24" stroke-linecap="round" opacity="0.85"/><ellipse cx="720" cy="525" rx="70" ry="52" fill="#fbe6d0"/><ellipse cx="712" cy="528" rx="50" ry="46" fill="#d6521a"/><ellipse cx="712" cy="530" rx="22" ry="28" fill="#8f2410"/><circle cx="745" cy="515" r="13" fill="#fff"/><path d="M635 500 Q700 450 800 490" fill="none" stroke="#3f1c11" stroke-width="16" stroke-linecap="round"/><path d="M345 630 Q350 595 440 590 Q545 585 566 612 Q566 680 520 708 Q440 725 380 705 Q345 685 345 630 Z" fill="url(#gl)" stroke="#c9531c" stroke-width="16" stroke-linejoin="round"/><path d="M638 588 Q720 562 852 566 Q855 625 812 655 Q740 678 680 660 Q642 640 638 588 Z" fill="url(#gl)" stroke="#c9531c" stroke-width="16" stroke-linejoin="round"/><path d="M338 608 Q450 572 568 600 L640 584 Q740 552 858 560" fill="none" stroke="#f3a04e" stroke-width="14" stroke-linecap="round"/><path d="M410 690 L470 615 M455 697 L520 617 M700 648 L765 582" stroke="#fba65a" stroke-width="20" stroke-linecap="round"/><path d="M500 745 Q620 735 730 700 Q725 760 660 785 Q570 805 500 745 Z" fill="#fdebd8" stroke="#6a2c16" stroke-width="12" stroke-linejoin="round"/><path d="M70 800 Q90 700 150 640 Q200 590 260 610 Q320 640 330 720 L320 820 Q280 900 210 930 L150 960 Q90 900 70 800 Z" fill="#4a2317" stroke="#2f140c" stroke-width="12" stroke-linejoin="round"/><path d="M110 700 Q200 730 290 700 M100 780 Q200 810 300 780 M130 860 Q200 880 270 850" fill="none" stroke="#6b3a25" stroke-width="12"/><path d="M150 790 Q170 720 240 690 Q280 690 285 730 Q280 790 230 820 Q180 830 150 790 Z" fill="#f3ad7e" stroke="#6a2c16" stroke-width="10"/><path d="M230 640 Q300 575 385 580 Q395 615 330 655 Q280 680 240 670 Z" fill="#f6c08e" stroke="#6a2c16" stroke-width="10"/><path d="M300 740 Q350 715 400 730 Q390 770 330 770 Z" fill="#f6c08e" stroke="#6a2c16" stroke-width="10"/></g></g></svg>
<div class="t" style="left:327.67px;top:147px;font-size:52.2px;font-weight:400;color:#2a2c32;transform:scaleX(1.0490);-webkit-text-stroke:1.46px #2a2c32;"><span style="letter-spacing:-.008em">ЛоCards</span> <span style="display:inline-block;width:0.662em;transform:scaleX(0.632);transform-origin:0 50%;margin-left:0.048em;position:relative;top:-0.098em">—</span> <span style="letter-spacing:.008em">Мемы и видео</span></div>
</body></html>
